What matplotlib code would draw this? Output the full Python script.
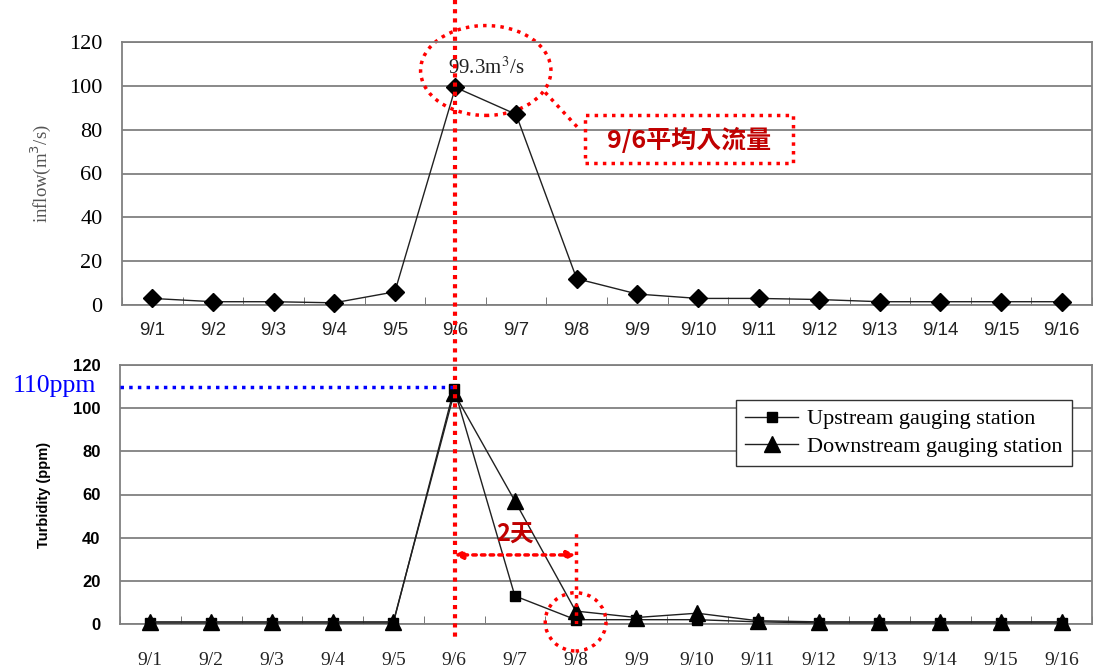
import numpy as np
import matplotlib.pyplot as plt
from matplotlib.patches import Ellipse, Rectangle
from matplotlib.lines import Line2D
import matplotlib.transforms as mtransforms

days = ['9/1', '9/2', '9/3', '9/4', '9/5', '9/6', '9/7', '9/8',
        '9/9', '9/10', '9/11', '9/12', '9/13', '9/14', '9/15', '9/16']
inflow = [3, 1.5, 1.5, 1, 6, 99.3, 87, 12, 5, 3, 3, 2.5, 1.5, 1.5, 1.5, 1.5]
upstream = [0.5, 0.5, 0.5, 0.5, 0.5, 109, 13, 2, 2, 2, 1, 0.5, 0.5, 0.5, 0.5, 0.5]
downstream = [1, 1, 1, 1, 1, 107, 57, 6, 3, 5, 1.5, 1, 1, 1, 1, 1]

SERIF = 'Liberation Serif'
SANS = 'Liberation Sans'
CJK = ['Noto Sans CJK TC', 'DejaVu Sans']
RED = '#ff0000'
DARKRED = '#c00000'
GRID = '#808080'

W, H = 1093, 670
fig = plt.figure(figsize=(W / 100, H / 100), dpi=100)

def px_axes(l, t, r, b):
    return fig.add_axes([l / W, 1 - b / H, (r - l) / W, (b - t) / H])

ax1 = px_axes(122, 42, 1092, 305)
ax2 = px_axes(120, 365, 1092, 624)
x = np.arange(len(days)) + 0.5

for ax in (ax1, ax2):
    ax.set_xlim(0, len(days))
    ax.set_ylim(0, 120)
    ax.set_yticks(range(0, 121, 20))
    ax.set_xticks(x)
    ax.set_xticks(np.arange(len(days) + 1), minor=True)
    ax.tick_params(axis='x', which='major', length=0)
    ax.tick_params(axis='x', which='minor', direction='in', length=6,
                   color='#606060')
    ax.tick_params(axis='y', length=0, pad=14)
    ax.grid(axis='y', color=GRID, lw=1.3)
    for s in ax.spines.values():
        s.set_color(GRID)
        s.set_linewidth(1.3)
    ax.set_axisbelow(True)

# top panel
ax1.plot(x, inflow, color='#202020', lw=1, marker='D', ms=9,
         mfc='black', mec='black', clip_on=False, zorder=3)
ax1.set_xticklabels(days, family=SANS, fontsize=13.5, color='#222222')
ax1.tick_params(axis='x', which='major', pad=12)
for lab in ax1.get_yticklabels():
    lab.set_family(SERIF)
    lab.set_fontsize(16)
ax1.set_ylabel('inflow(m$^3$/s)', family=SERIF, fontsize=13.5, color='#555555',
               labelpad=12)

ax1.text(6.0, 108, '99.3m$^3$/s', family=SERIF, fontsize=15, ha='center',
         va='center', color='#222222', math_fontfamily='stix')
ax1.add_patch(Ellipse((6.0, 107), 2.15, 41, fill=False, ec=RED, lw=2.5,
                      ls=(0, (1, 1.5)), clip_on=False))
ax1.plot([6.98, 7.55], [97, 80], color=RED, lw=2.5, ls=(0, (1, 1.5)),
         clip_on=False)
ax1.add_patch(Rectangle((7.64, 64.8), 3.43, 21.9, fill=False, ec=RED, lw=2.5,
                        ls=(0, (1, 1.5))))
ax1.text(9.36, 75.5, '9/6平均入流量', family=CJK, fontsize=18,
         fontweight='bold', color=DARKRED, ha='center', va='center')

# bottom panel
ax2.plot(x, upstream, color='#202020', lw=1, marker='s', ms=7,
         mfc='black', mec='black', clip_on=False, zorder=3,
         label='Upstream gauging station')
ax2.plot(x, downstream, color='#202020', lw=1, marker='^', ms=12,
         mfc='black', mec='black', clip_on=False, zorder=3,
         label='Downstream gauging station')
ax2.set_xticklabels(days, family=SERIF, fontsize=14, color='#222222')
ax2.tick_params(axis='x', which='major', pad=20)
for lab in ax2.get_yticklabels():
    lab.set_family(SANS)
    lab.set_fontweight('bold')
    lab.set_fontsize(12)
ax2.set_ylabel('Turbidity (ppm)', family=SANS, fontweight='bold', fontsize=10.5,
               labelpad=16)

leg = ax2.legend(loc='upper right', bbox_to_anchor=(0.979, 0.865),
                 prop={'family': SERIF, 'size': 16}, fancybox=False,
                 edgecolor='#333333', framealpha=1, borderaxespad=0,
                 handlelength=2.4, handletextpad=0.4, borderpad=0.4,
                 labelspacing=0.3)
leg.get_frame().set_linewidth(1)

# 110 ppm reference
ax2.plot([0, 5.5], [110, 110], color='blue', lw=2.5, ls=(0, (1, 1.5)),
         zorder=4)
ax2.annotate('110ppm', xy=(-0.025, 110.5), xycoords=('axes fraction', 'data'),
             family=SERIF, fontsize=18.5, color='blue', ha='right',
             va='center', annotation_clip=False)

# 2-day lag
ax2.annotate('', xy=(5.5, 32), xytext=(7.5, 32),
             arrowprops=dict(arrowstyle='<|-|>', color=RED, lw=2.5,
                             ls=(0, (1, 1.5)), mutation_scale=12,
                             shrinkA=0, shrinkB=0))
ax2.plot([7.5, 7.5], [0, 44], color=RED, lw=2.5, ls=(0, (1, 1.5)), zorder=4)
ax2.text(6.5, 41.5, '2天', family=CJK, fontsize=17, fontweight='bold',
         color=DARKRED, ha='center', va='center')
ax2.add_patch(Ellipse((7.5, 1), 1.0, 27, fill=False, ec=RED, lw=2.5,
                      ls=(0, (1, 1.5)), clip_on=False, zorder=5))

# vertical line at 9/6 across both panels
trans = mtransforms.blended_transform_factory(ax1.transData, fig.transFigure)
fig.add_artist(Line2D([5.5, 5.5], [1.0, 0.045], transform=trans, color=RED,
                      lw=3, ls=(0, (1, 1.2)), zorder=10))

fig.savefig('out.png', dpi=100)
